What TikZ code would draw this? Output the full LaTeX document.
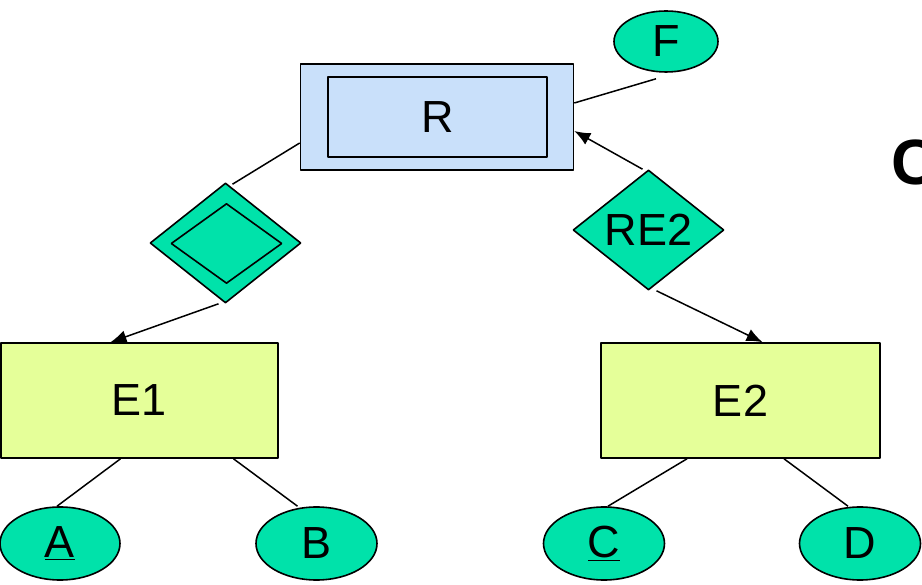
\documentclass[tikz,border=0pt]{standalone}
\usepackage{fontspec}
\setmainfont{Liberation Sans}
\usetikzlibrary{shapes.geometric,arrows.meta}
\definecolor{attrgreen}{RGB}{0,226,170}
\definecolor{entblue}{RGB}{201,224,250}
\definecolor{entyellow}{RGB}{229,255,153}
\begin{document}
\begin{tikzpicture}[line join=bevel,
    font=\fontsize{45bp}{48bp}\selectfont,
    entity/.style={draw,rectangle,line width=1.6bp,fill=entyellow,inner sep=0pt},
    weakent/.style={draw,rectangle,line width=1.6bp,fill=entblue,inner sep=0pt},
    attr/.style={draw,ellipse,line width=1.6bp,fill=attrgreen,inner sep=0pt},
    rel/.style={draw,diamond,line width=1.6bp,fill=attrgreen,inner sep=0pt,aspect=1.26},
    link/.style={line width=1.5bp},
    arrowlink/.style={line width=1.5bp,-{Latex[length=16bp,width=13bp]}}]
    \useasboundingbox (0bp,0bp) rectangle (922bp,585bp);
    %%
    \node (R) at (437.0bp,468.0bp) [weakent,minimum width=273bp,minimum height=106bp] {};
    \node (Rin) at (437.5bp,468.0bp) [weakent,minimum width=219bp,minimum height=80bp] {R};
    \node (F) at (666.0bp,543.5bp) [attr,minimum width=104bp,minimum height=61bp] {F};
    \node (RE1) at (225.5bp,342.0bp) [rel,minimum width=151bp,minimum height=120bp] {};
    \node (RE1in) at (226.5bp,341.5bp) [rel,minimum width=111bp,minimum height=80bp] {};
    \node (RE2) at (648.5bp,355.0bp) [rel,minimum width=151bp,minimum height=120bp] {RE2};
    \node (E1) at (139.5bp,184.5bp) [entity,minimum width=277bp,minimum height=115bp] {E1};
    \node (E2) at (740.5bp,184.5bp) [entity,minimum width=279bp,minimum height=115bp] {E2};
    \node (A) at (60.0bp,41.5bp) [attr,minimum width=120bp,minimum height=73bp] {\underline{A}};
    \node (B) at (316.5bp,41.5bp) [attr,minimum width=121bp,minimum height=73bp] {B};
    \node (C) at (604.0bp,41.5bp) [attr,minimum width=121bp,minimum height=73bp] {\underline{C}};
    \node (D) at (860.0bp,41.5bp) [attr,minimum width=121bp,minimum height=73bp] {D};
    \node (title) at (891.0bp,445.0bp) [anchor=north west,inner sep=0pt,font=\fontsize{64bp}{70bp}\selectfont\bfseries] {C};
    \draw [link] ([yshift=14bp]R.east) -- ([shift={(-10bp,-6bp)}]F.south);
    \draw [link] ([yshift=-26bp]R.west) -- ([shift={(7bp,-2bp)}]RE1.north);
    \draw [arrowlink] ([xshift=-7bp]RE1.south) -- ([xshift=-29bp]E1.north);
    \draw [arrowlink] ([xshift=-6bp]RE2.north) -- ([yshift=-14bp]R.east);
    \draw [arrowlink] ([xshift=8bp]RE2.south) -- ([xshift=22bp]E2.north);
    \draw [link] ([xshift=-19bp]E1.south) -- ([xshift=-3bp]A.north);
    \draw [link] ([xshift=94bp]E1.south) -- ([xshift=-19bp]B.north);
    \draw [link] ([xshift=-53.5bp]E2.south) -- ([xshift=4bp]C.north);
    \draw [link] ([xshift=43.5bp]E2.south) -- ([xshift=-12bp]D.north);
    %
\end{tikzpicture}
\end{document}
